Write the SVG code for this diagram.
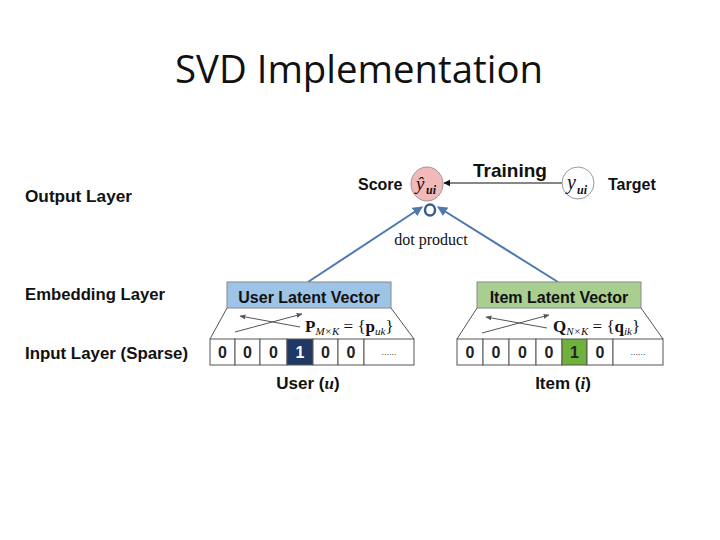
<svg xmlns="http://www.w3.org/2000/svg" width="720" height="540" viewBox="0 0 720 540">
<defs>
<style>
.t{font-family:"Liberation Sans",Arial,sans-serif;font-weight:bold;fill:#111}
.s{font-family:"Liberation Serif","Times New Roman",serif;fill:#111}
.cell{fill:#fff;stroke:#555;stroke-width:1}
.d{font-family:"Liberation Sans",Arial,sans-serif;font-weight:bold;font-size:16px;text-anchor:middle;fill:#222}
.w{fill:#fff}
.blue{stroke:#4e79ad;stroke-width:2;fill:none}
.thin{stroke:#555;stroke-width:1;fill:none}
</style>
<marker id="ab" viewBox="0 0 10 10" refX="9" refY="5" markerWidth="5" markerHeight="5" orient="auto"><path d="M0,0L10,5L0,10z" fill="#4e79ad"/></marker>
<marker id="ak" viewBox="0 0 10 10" refX="9" refY="5" markerWidth="6" markerHeight="6" orient="auto"><path d="M0,0L10,5L0,10z" fill="#111"/></marker>
<marker id="ag" viewBox="0 0 10 10" refX="9" refY="5" markerWidth="6" markerHeight="6" orient="auto"><path d="M0,1L10,5L0,9z" fill="#555"/></marker>
</defs>
<rect width="720" height="540" fill="#fff"/>
<text x="359" y="83" font-family="'Open Sans','Liberation Sans',sans-serif" font-size="38" text-anchor="middle" fill="#111" textLength="368" lengthAdjust="spacingAndGlyphs">SVD Implementation</text>

<g id="layer-labels">
<text class="t" x="25" y="202" font-size="17" textLength="107" lengthAdjust="spacingAndGlyphs">Output Layer</text>
<text class="t" x="25" y="300" font-size="17" textLength="140" lengthAdjust="spacingAndGlyphs">Embedding Layer</text>
<text class="t" x="25" y="359" font-size="17" textLength="163" lengthAdjust="spacingAndGlyphs">Input Layer (Sparse)</text>
</g>

<g id="connectors">
<line x1="308" y1="282" x2="422" y2="207" class="blue" marker-end="url(#ab)"/>
<line x1="558" y1="282" x2="438" y2="207" class="blue" marker-end="url(#ab)"/>
<line x1="562" y1="183" x2="444" y2="183" stroke="#111" stroke-width="1.2" marker-end="url(#ak)"/>
</g>

<g id="score">
<text class="t" x="358" y="190" font-size="16">Score</text>
<ellipse cx="427" cy="184" rx="16" ry="17" fill="#f2b9ba" stroke="#999" stroke-width="1"/>
<text class="s" x="416" y="190" font-size="19" font-style="italic">ŷ</text>
<text class="s" x="426" y="194" font-size="12" font-style="italic" font-weight="bold">ui</text>
</g>

<g id="dot">
<ellipse cx="430" cy="210" rx="5" ry="5.5" fill="#fff" stroke="#3e5c8a" stroke-width="2.5"/>
<text class="s" x="431" y="245" font-size="16" text-anchor="middle">dot product</text>
</g>

<g id="target">
<text class="t" x="473" y="177" font-size="19">Training</text>
<circle cx="578" cy="183" r="16" fill="#fff" stroke="#999" stroke-width="1"/>
<text class="s" x="567" y="189" font-size="20" font-style="italic">y</text>
<text class="s" x="577" y="194" font-size="12" font-style="italic" font-weight="bold">ui</text>
<text class="t" x="608" y="190" font-size="16">Target</text>
</g>

<g id="user-vector">
<rect x="227" y="282" width="164" height="26" fill="#9dc3e6" stroke="#888" stroke-width="1"/>
<text class="t" x="309" y="303" font-size="16" text-anchor="middle">User Latent Vector</text>
<line x1="227" y1="308" x2="210" y2="339" class="thin"/>
<line x1="391" y1="308" x2="414" y2="339" class="thin"/>
<line x1="235" y1="332" x2="302" y2="314" class="thin" marker-end="url(#ag)"/>
<line x1="300" y1="327" x2="240" y2="316" class="thin" marker-end="url(#ag)"/>
<text class="s" x="305" y="332" font-size="17"><tspan font-weight="bold">P</tspan><tspan font-size="11" font-style="italic" dy="3">M×K</tspan><tspan dy="-3"> = {</tspan><tspan font-weight="bold">p</tspan><tspan font-size="11" font-style="italic" dy="3">uk</tspan><tspan dy="-3">}</tspan></text>
</g>

<g id="user-input">
<rect class="cell" x="210" y="339" width="25" height="26"/>
<rect class="cell" x="235" y="339" width="25" height="26"/>
<rect class="cell" x="260" y="339" width="27" height="26"/>
<rect x="287" y="339" width="26" height="26" fill="#1f3864" stroke="#555"/>
<rect class="cell" x="313" y="339" width="25" height="26"/>
<rect class="cell" x="338" y="339" width="26" height="26"/>
<rect class="cell" x="364" y="339" width="50" height="26"/>
<text class="d" x="222.5" y="358">0</text>
<text class="d" x="247.5" y="358">0</text>
<text class="d" x="273.5" y="358">0</text>
<text class="d w" x="300" y="358">1</text>
<text class="d" x="325.5" y="358">0</text>
<text class="d" x="351" y="358">0</text>
<text x="389" y="355" font-family="'Liberation Sans',sans-serif" font-size="9" text-anchor="middle" fill="#444">......</text>
<text class="t" x="308" y="389" font-size="17" text-anchor="middle">User (<tspan font-family="'Liberation Serif',serif" font-style="italic">u</tspan>)</text>
</g>

<g id="item-vector">
<rect x="477" y="282" width="164" height="26" fill="#a9cf90" stroke="#888" stroke-width="1"/>
<text class="t" x="559" y="303" font-size="16" text-anchor="middle">Item Latent Vector</text>
<line x1="477" y1="308" x2="457" y2="339" class="thin"/>
<line x1="641" y1="308" x2="663" y2="339" class="thin"/>
<line x1="482" y1="333" x2="549" y2="315" class="thin" marker-end="url(#ag)"/>
<line x1="547" y1="328" x2="486" y2="317" class="thin" marker-end="url(#ag)"/>
<text class="s" x="553" y="332" font-size="17"><tspan font-weight="bold">Q</tspan><tspan font-size="11" font-style="italic" dy="3">N×K</tspan><tspan dy="-3"> = {</tspan><tspan font-weight="bold">q</tspan><tspan font-size="11" font-style="italic" dy="3">ik</tspan><tspan dy="-3">}</tspan></text>
</g>

<g id="item-input">
<rect class="cell" x="457" y="339" width="26" height="26"/>
<rect class="cell" x="483" y="339" width="26" height="26"/>
<rect class="cell" x="509" y="339" width="27" height="26"/>
<rect class="cell" x="536" y="339" width="26" height="26"/>
<rect x="562" y="339" width="25" height="26" fill="#6fb13a" stroke="#555"/>
<rect class="cell" x="587" y="339" width="26" height="26"/>
<rect class="cell" x="613" y="339" width="50" height="26"/>
<text class="d" x="470" y="358">0</text>
<text class="d" x="496" y="358">0</text>
<text class="d" x="522.5" y="358">0</text>
<text class="d" x="549" y="358">0</text>
<text class="d" x="574.5" y="358">1</text>
<text class="d" x="600" y="358">0</text>
<text x="638" y="355" font-family="'Liberation Sans',sans-serif" font-size="9" text-anchor="middle" fill="#444">......</text>
<text class="t" x="563" y="389" font-size="17" text-anchor="middle">Item (<tspan font-family="'Liberation Serif',serif" font-style="italic">i</tspan>)</text>
</g>
</svg>
